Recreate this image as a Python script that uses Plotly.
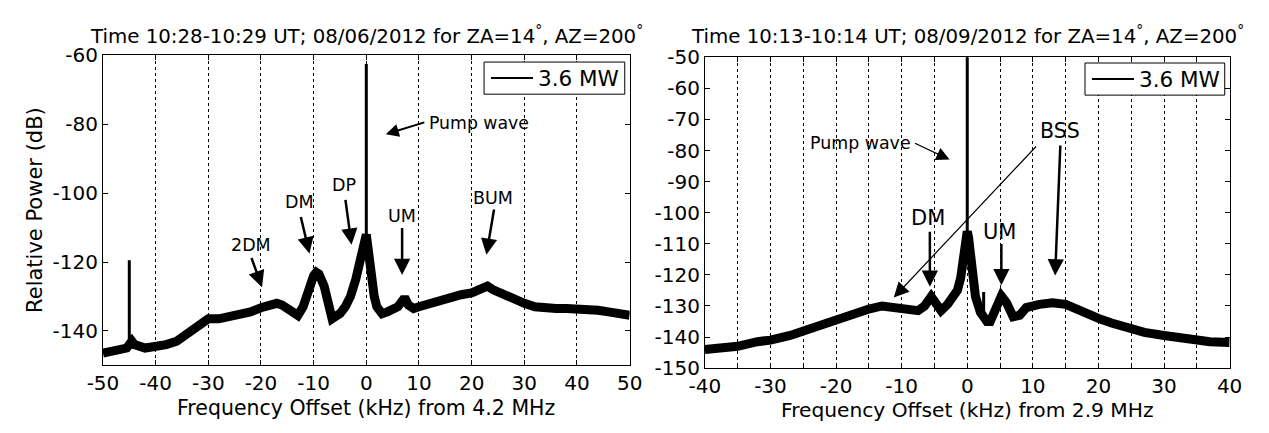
import plotly.graph_objects as go

FONT = "DejaVu Sans, Verdana, sans-serif"

# ---------------- data: left panel (08/06/2012, 4.2 MHz) ----------------
left_freq = [-50, -48, -46, -45.5, -44.5, -44, -42, -40, -38, -36, -34, -32, -30, -28, -26, -24,
             -22, -20, -18, -17, -16, -15, -14, -13, -12, -11, -10, -9.5, -9, -8, -7, -6.5, -6,
             -5, -4, -3, -2, -1, -0.5, 0, 0.5, 1, 1.5, 2, 3, 4, 5, 6, 7, 7.5, 8, 9, 10, 12, 14,
             16, 18, 20, 22, 23, 24, 26, 28, 30, 32, 34, 36, 38, 40, 42, 44, 46, 48, 50]
left_power = [-146.5, -146, -145.5, -145, -143, -144, -145, -144.8, -144, -143, -141, -139, -136.5,
              -136.5, -136, -135.5, -134.5, -133.3, -132.3, -132, -132.5, -133.5, -135, -135.5,
              -133, -128, -124, -123, -123.5, -127, -133, -136.5, -136, -135, -133, -130, -125,
              -119, -114, -112, -118, -126, -130, -133, -135, -134.5, -133.5, -133, -131, -131,
              -132.5, -133.5, -133, -132, -131, -130, -129.5, -129, -128, -127, -128, -129.5,
              -131, -132, -133, -133.5, -133.5, -133.5, -133.5, -134, -134, -134.5, -135, -135.5]
left_spike_freq = [-45, 0]
left_spike_base = [-143, -113]
left_spike_top = [-119.5, -62.5]

left_xtick_vals = [-50, -40, -30, -20, -10, 0, 10, 20, 30, 40, 50]
left_xtick_text = ["-50", "-40", "-30", "-20", "-10", "0", "10", "20", "30", "40", "50"]
left_ytick_vals = [-140, -120, -100, -80, -60]
left_ytick_text = ["-140", "-120", "-100", "-80", "-60"]

# ---------------- data: right panel (08/09/2012, 2.9 MHz) ----------------
right_freq = [-40, -37, -35, -32, -30, -27, -25, -22, -20, -17, -15, -13, -11, -9, -7.5, -6.5,
              -5.5, -4.5, -4, -3, -2, -1.5, -1, -0.5, -0.2, 0, 0.2, 0.5, 0.75, 1.25, 2, 3, 3.5,
              4.2, 5.2, 6, 7, 8, 9, 11, 13, 15, 17, 20, 22, 25, 27, 30, 33, 35, 37, 40]
right_power = [-144, -143.5, -143, -141.5, -141, -139.5, -138, -136, -135, -132.5, -131, -130,
               -130.5, -131, -131.5, -130, -127, -130, -131.5, -129.5, -127, -125, -121, -114,
               -108, -106, -108, -115, -119, -127, -132, -135, -135, -131, -126.8, -129, -133.5,
               -133, -130.5, -129.5, -129, -129.5, -131.5, -134, -135.5, -137.5, -138.5, -139.5,
               -140.5, -141, -141.5, -141.8]
right_spike_freq = [0, 2.5]
right_spike_base = [-108, -133]
right_spike_top = [-45, -125.5]

right_xtick_vals = [-40, -30, -20, -10, 0, 10, 20, 30, 40]
right_xtick_text = ["-40", "-30", "-20", "-10", "0", "10", "20", "30", "40"]
right_xminor_vals = [-35, -25, -15, -5, 5, 15, 25, 35]
right_ytick_vals = [-150, -140, -130, -120, -110, -100, -90, -80, -70, -60, -50]
right_ytick_text = ["-150", "-140", "-130", "-120", "-110", "-100", "-90", "-80", "-70", "-60", "-50"]

left_title = "Time 10:28-10:29 UT; 08/06/2012 for ZA=14<sup>°</sup>, AZ=200<sup>°</sup>"
right_title = "Time 10:13-10:14 UT; 08/09/2012 for ZA=14<sup>°</sup>, AZ=200<sup>°</sup>"
left_xlabel = "Frequency Offset (kHz) from 4.2 MHz"
right_xlabel = "Frequency Offset (kHz) from 2.9 MHz"
ylabel = "Relative Power (dB)"
legend_label = "3.6 MW"

# annotation labels: (text, text_x, text_y, tail_x, tail_y, head_x, head_y)
left_marks = [
    ("2DM", -21.9, -115.2, -21.9, -118.4, -19.8, -127.3),
    ("DM", -12.7, -102.5, -12.5, -106.5, -10.8, -117.5),
    ("DP", -4.3, -97.5, -4.0, -101.5, -2.8, -115.0),
    ("UM", 6.7, -106.5, 6.8, -109.7, 6.8, -123.8),
    ("BUM", 24.1, -101.5, 24.3, -104.3, 22.8, -117.9),
]
right_marks = [
    ("DM", -6.0, -101.6, -5.7, -105.6, -5.7, -123.8),
    ("UM", 5.0, -106.1, 5.2, -109.6, 5.2, -123.3),
]


def spike_xy(xs, bases, tops):
    sx, sy = [], []
    for x, b, t in zip(xs, bases, tops):
        sx += [x, x, None]
        sy += [b, t, None]
    return sx, sy


fig = go.Figure()

# left panel
fig.add_trace(go.Scatter(x=left_freq, y=left_power, mode="lines",
                         line=dict(color="black", width=9), showlegend=False,
                         xaxis="x", yaxis="y"))
sx, sy = spike_xy(left_spike_freq, left_spike_base, left_spike_top)
fig.add_trace(go.Scatter(x=sx, y=sy, mode="lines", line=dict(color="black", width=3),
                         showlegend=False, xaxis="x", yaxis="y"))
fig.add_trace(go.Scatter(x=[None], y=[None], mode="lines", name=legend_label,
                         line=dict(color="black", width=2), legend="legend",
                         xaxis="x", yaxis="y"))

# right panel
fig.add_trace(go.Scatter(x=right_freq, y=right_power, mode="lines",
                         line=dict(color="black", width=9), showlegend=False,
                         xaxis="x2", yaxis="y2"))
sx, sy = spike_xy(right_spike_freq, right_spike_base, right_spike_top)
fig.add_trace(go.Scatter(x=sx, y=sy, mode="lines", line=dict(color="black", width=3),
                         showlegend=False, xaxis="x2", yaxis="y2"))
fig.add_trace(go.Scatter(x=[None], y=[None], mode="lines", name=legend_label,
                         line=dict(color="black", width=2), legend="legend2",
                         xaxis="x2", yaxis="y2"))

W, H = 1269, 433
L_x0, L_x1, L_y0, L_y1 = 89, 628, 46, 374
R_x0, R_x1, R_y0, R_y1 = 705, 1242, 48, 377

axis_common = dict(showline=True, linecolor="black", linewidth=1, mirror="ticks",
                   ticks="inside", ticklen=5, tickcolor="black", zeroline=False,
                   tickmode="array", tickfont=dict(family=FONT, size=20, color="black"))

# legend boxes (pixel geometry)
LEG_L = (479, 623, 53, 87)
LEG_R = (1094, 1237, 54, 88)

fig.update_layout(
    width=W, height=H,
    margin=dict(l=0, r=0, t=0, b=0),
    paper_bgcolor="white", plot_bgcolor="white",
    font=dict(family=FONT, color="black"),
    xaxis=dict(domain=[L_x0 / W, L_x1 / W], range=[-50, 50],
               tickvals=left_xtick_vals, ticktext=left_xtick_text,
               showgrid=True, gridcolor="black", griddash="dot", gridwidth=1,
               ticklabelstandoff=0, anchor="y", **axis_common),
    yaxis=dict(domain=[1 - L_y1 / H, 1 - L_y0 / H], range=[-150, -60],
               tickvals=left_ytick_vals, ticktext=left_ytick_text,
               showgrid=False, anchor="x", **axis_common),
    xaxis2=dict(domain=[R_x0 / W, R_x1 / W], range=[-40, 40],
                tickvals=right_xtick_vals, ticktext=right_xtick_text,
                showgrid=True, gridcolor="black", griddash="dot", gridwidth=1,
                minor=dict(tickmode="array", tickvals=right_xminor_vals, ticks="inside",
                           ticklen=5, tickcolor="black",
                           showgrid=True, gridcolor="black", griddash="dot", gridwidth=1),
                ticklabelstandoff=0, anchor="y2", **axis_common),
    yaxis2=dict(domain=[1 - R_y1 / H, 1 - R_y0 / H], range=[-150, -50],
                tickvals=right_ytick_vals, ticktext=right_ytick_text,
                showgrid=False, anchor="x2", **axis_common),
    legend=dict(x=(LEG_L[0] + 2) / W, xanchor="left", y=1 - (LEG_L[2] + LEG_L[3]) / 2 / H,
                yanchor="middle", borderwidth=0, bgcolor="rgba(0,0,0,0)", itemwidth=42,
                font=dict(family=FONT, size=21.5, color="black")),
    legend2=dict(x=(LEG_R[0] + 2) / W, xanchor="left", y=1 - (LEG_R[2] + LEG_R[3]) / 2 / H,
                 yanchor="middle", borderwidth=0, bgcolor="rgba(0,0,0,0)", itemwidth=42,
                 font=dict(family=FONT, size=21.5, color="black")),
)

shapes = []
for (x0, x1, y0, y1) in (LEG_L, LEG_R):
    shapes.append(dict(type="rect", xref="paper", yref="paper", x0=x0 / W, x1=x1 / W,
                       y0=1 - y1 / H, y1=1 - y0 / H, line=dict(color="black", width=1),
                       fillcolor="white", layer="above"))
fig.update_layout(shapes=shapes)

ann = []
# titles and axis labels
ann.append(dict(text=left_title, x=(L_x0 + L_x1) / 2 / W, y=1 - 24 / H, xref="paper", yref="paper",
                showarrow=False, font=dict(size=19.8, family=FONT), xanchor="center", yanchor="middle"))
ann.append(dict(text=right_title, x=(R_x0 + R_x1) / 2 / W, y=1 - 24 / H, xref="paper", yref="paper",
                showarrow=False, font=dict(size=19.8, family=FONT), xanchor="center", yanchor="middle"))
ann.append(dict(text=left_xlabel, x=(L_x0 + L_x1) / 2 / W, y=1 - 419 / H, xref="paper", yref="paper",
                showarrow=False, font=dict(size=20.5, family=FONT), xanchor="center", yanchor="middle"))
ann.append(dict(text=right_xlabel, x=(R_x0 + R_x1) / 2 / W, y=1 - 421 / H, xref="paper", yref="paper",
                showarrow=False, font=dict(size=20.2, family=FONT), xanchor="center", yanchor="middle"))
ann.append(dict(text=ylabel, x=20 / W, y=1 - 210 / H, xref="paper", yref="paper", textangle=-90,
                showarrow=False, font=dict(size=21, family=FONT), xanchor="center", yanchor="middle"))


def add_mark(text, tx, ty, ax_, ay_, hx, hy, xr, yr, size, width, asize):
    ann.append(dict(text=text, x=tx, y=ty, xref=xr, yref=yr, showarrow=False,
                    font=dict(size=size, family=FONT), xanchor="center", yanchor="middle"))
    ann.append(dict(text="", x=hx, y=hy, ax=ax_, ay=ay_, xref=xr, yref=yr, axref=xr, ayref=yr,
                    showarrow=True, arrowhead=2, arrowsize=asize, arrowwidth=width,
                    arrowcolor="black", standoff=0, startstandoff=0))


for m in left_marks:
    add_mark(*m, "x", "y", 17.5, 2.5, 1.3)
for m in right_marks:
    add_mark(*m, "x2", "y2", 21, 2.5, 1.3)

# Pump wave labels
ann.append(dict(text="Pump wave", x=11.6, y=-79.6, xref="x", yref="y", showarrow=False,
                font=dict(size=17.3, family=FONT), xanchor="left", yanchor="middle"))
ann.append(dict(text="", x=3.7, y=-82.9, ax=11.3, ay=-79.3, xref="x", yref="y", axref="x", ayref="y",
                showarrow=True, arrowhead=2, arrowsize=1.3, arrowwidth=2, arrowcolor="black",
                standoff=0, startstandoff=0))
ann.append(dict(text="Pump wave", x=-8.3, y=-77.6, xref="x2", yref="y2", showarrow=False,
                font=dict(size=17.4, family=FONT), xanchor="right", yanchor="middle"))
ann.append(dict(text="", x=-2.7, y=-82.9, ax=-8.2, ay=-77.4, xref="x2", yref="y2", axref="x2", ayref="y2",
                showarrow=True, arrowhead=2, arrowsize=2.2, arrowwidth=1.2, arrowcolor="black",
                standoff=0, startstandoff=0))
# BSS
ann.append(dict(text="BSS", x=14.2, y=-73.8, xref="x2", yref="y2", showarrow=False,
                font=dict(size=20.5, family=FONT), xanchor="center", yanchor="middle"))
ann.append(dict(text="", x=-11.2, y=-127.3, ax=10.7, ay=-78.2, xref="x2", yref="y2", axref="x2", ayref="y2",
                showarrow=True, arrowhead=2, arrowsize=2.5, arrowwidth=1.2, arrowcolor="black",
                standoff=0, startstandoff=0))
ann.append(dict(text="", x=13.4, y=-120.2, ax=14.2, ay=-77.9, xref="x2", yref="y2", axref="x2", ayref="y2",
                showarrow=True, arrowhead=2, arrowsize=1.3, arrowwidth=2.5, arrowcolor="black",
                standoff=0, startstandoff=0))

fig.update_layout(annotations=ann)
fig.write_html("out.html")
